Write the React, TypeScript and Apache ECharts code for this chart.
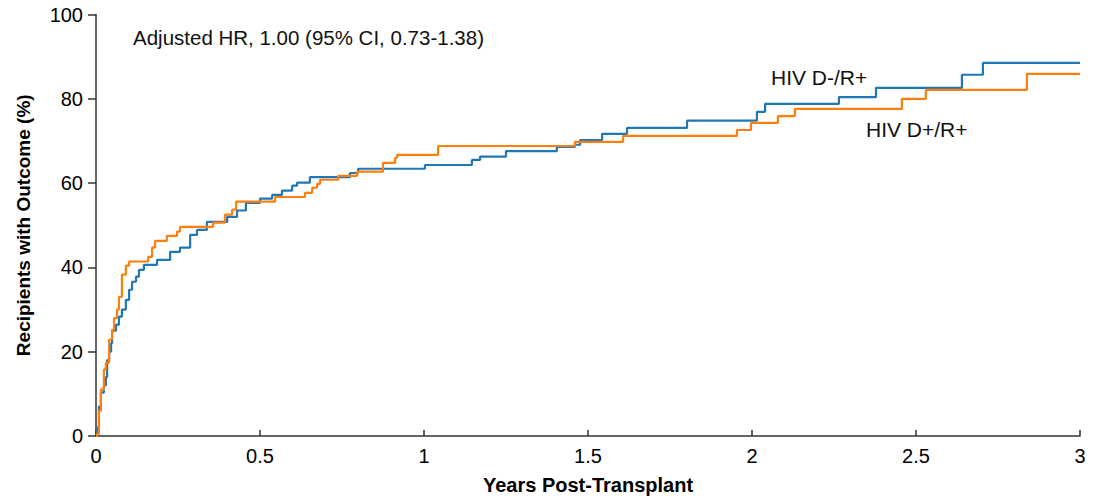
import React, { useEffect, useRef } from "react";
import * as echarts from "echarts";

const xTickLabels = ["0", "0.5", "1", "1.5", "2", "2.5", "3"];
const yTickLabels = ["0", "20", "40", "60", "80", "100"];

// HIV D-/R+ (blue): [years, % with outcome]
const blueTimes = [0, 0.003, 0.009, 0.015, 0.024, 0.03, 0.034, 0.04, 0.046, 0.049, 0.061, 0.07, 0.079, 0.091, 0.101, 0.11, 0.122, 0.131, 0.146, 0.186, 0.226, 0.256, 0.287, 0.308, 0.338, 0.4, 0.43, 0.457, 0.5, 0.537, 0.567, 0.598, 0.613, 0.652, 0.774, 0.799, 1.003, 1.146, 1.171, 1.25, 1.405, 1.46, 1.476, 1.543, 1.619, 1.802, 2.015, 2.04, 2.265, 2.378, 2.64, 2.704, 3.0];
const blueValues = [0, 2, 7, 10.3, 12, 14, 18, 20, 22, 25, 26.4, 28.3, 30, 32.3, 34.7, 36.6, 37.8, 39.4, 40.6, 41.8, 43.7, 44.7, 47.7, 48.9, 50.8, 52, 53.5, 55.3, 56.3, 57.2, 58.2, 59.4, 60.1, 61.4, 62.4, 63.4, 64.3, 65.5, 66.3, 67.6, 68.6, 69.1, 70.2, 71.7, 73.1, 74.8, 76.9, 78.8, 80.4, 82.6, 85.7, 88.5, 88.5];

// HIV D+/R+ (orange)
const orangeTimes = [0, 0.003, 0.009, 0.015, 0.024, 0.03, 0.04, 0.049, 0.055, 0.064, 0.07, 0.079, 0.091, 0.101, 0.159, 0.171, 0.18, 0.216, 0.247, 0.256, 0.357, 0.393, 0.415, 0.427, 0.546, 0.637, 0.659, 0.674, 0.683, 0.738, 0.796, 0.875, 0.912, 0.918, 1.043, 1.46, 1.607, 1.954, 1.997, 2.079, 2.131, 2.457, 2.53, 2.838, 3.0];
const orangeValues = [0, 0.5, 6, 11, 15.8, 17.4, 22.9, 25.2, 28, 30, 33, 38.3, 40.4, 41.4, 42.5, 44.7, 46.3, 47.5, 48.5, 49.6, 50.6, 52.5, 53.7, 55.6, 56.7, 57.7, 58.9, 59.8, 60.8, 61.7, 62.7, 64.8, 66.0, 66.7, 68.8, 69.8, 71.2, 72.6, 74.3, 75.9, 77.6, 80.0, 82.1, 85.9, 85.9];

const blueName = "HIV D-/R+";
const orangeName = "HIV D+/R+";
const annotation = "Adjusted HR, 1.00 (95% CI, 0.73-1.38)";

const FONT = "Liberation Sans, Arial, sans-serif";

export default function App() {
  const ref = useRef<HTMLDivElement>(null);
  useEffect(() => {
    if (!ref.current) return;
    const chart = echarts.init(ref.current, undefined, { renderer: "svg" });
    const zip = (t: number[], v: number[]) => t.map((x, i) => [x, v[i]]);
    chart.setOption({
      animation: false,
      backgroundColor: "#ffffff",
      textStyle: { fontFamily: FONT },
      grid: { left: 96, right: 14, top: 14.5, bottom: 63.5, containLabel: false },
      xAxis: {
        type: "value",
        min: 0,
        max: 3,
        interval: 0.5,
        name: "Years Post-Transplant",
        nameLocation: "middle",
        nameGap: 39,
        nameTextStyle: { fontFamily: FONT, fontSize: 20, fontWeight: "bold", color: "#000" },
        axisLine: { show: true, lineStyle: { color: "#333", width: 1.5 } },
        axisTick: { show: true, inside: true, length: 6, lineStyle: { color: "#333", width: 1.5 } },
        axisLabel: {
          fontFamily: FONT,
          fontSize: 20,
          color: "#000",
          margin: 10,
          formatter: (v: number) => xTickLabels[Math.round(v / 0.5)] ?? "",
        },
        splitLine: { show: false },
      },
      yAxis: {
        type: "value",
        min: 0,
        max: 100,
        interval: 20,
        name: "Recipients with Outcome (%)",
        nameLocation: "middle",
        nameGap: 63,
        nameTextStyle: { fontFamily: FONT, fontSize: 19, fontWeight: "bold", color: "#000" },
        axisLine: { show: true, lineStyle: { color: "#333", width: 1.5 } },
        axisTick: { show: true, inside: false, length: 8, lineStyle: { color: "#333", width: 1.5 } },
        axisLabel: {
          fontFamily: FONT,
          fontSize: 20,
          color: "#000",
          margin: 13,
          formatter: (v: number) => yTickLabels[Math.round(v / 20)] ?? "",
        },
        splitLine: { show: false },
      },
      series: [
        {
          name: blueName,
          type: "line",
          step: "end",
          showSymbol: false,
          symbol: "none",
          data: zip(blueTimes, blueValues),
          lineStyle: { color: "#1f77b4", width: 2.2 },
          itemStyle: { color: "#1f77b4" },
          z: 2,
        },
        {
          name: orangeName,
          type: "line",
          step: "end",
          showSymbol: false,
          symbol: "none",
          data: zip(orangeTimes, orangeValues),
          lineStyle: { color: "#ff7f0e", width: 2.2 },
          itemStyle: { color: "#ff7f0e" },
          z: 3,
        },
      ],
      graphic: [
        {
          type: "text",
          left: 133,
          top: 27,
          style: { text: annotation, fontFamily: FONT, fontSize: 20.5, fill: "#111" },
        },
        {
          type: "text",
          left: 771,
          top: 67,
          style: { text: blueName, fontFamily: FONT, fontSize: 21, fill: "#111" },
        },
        {
          type: "text",
          left: 866,
          top: 119,
          style: { text: orangeName, fontFamily: FONT, fontSize: 21, fill: "#111" },
        },
      ],
    });
    return () => chart.dispose();
  }, []);
  return (
    <div
      ref={ref}
      style={{ position: "fixed", left: 0, top: 0, width: 1094, height: 500 }}
    />
  );
}
